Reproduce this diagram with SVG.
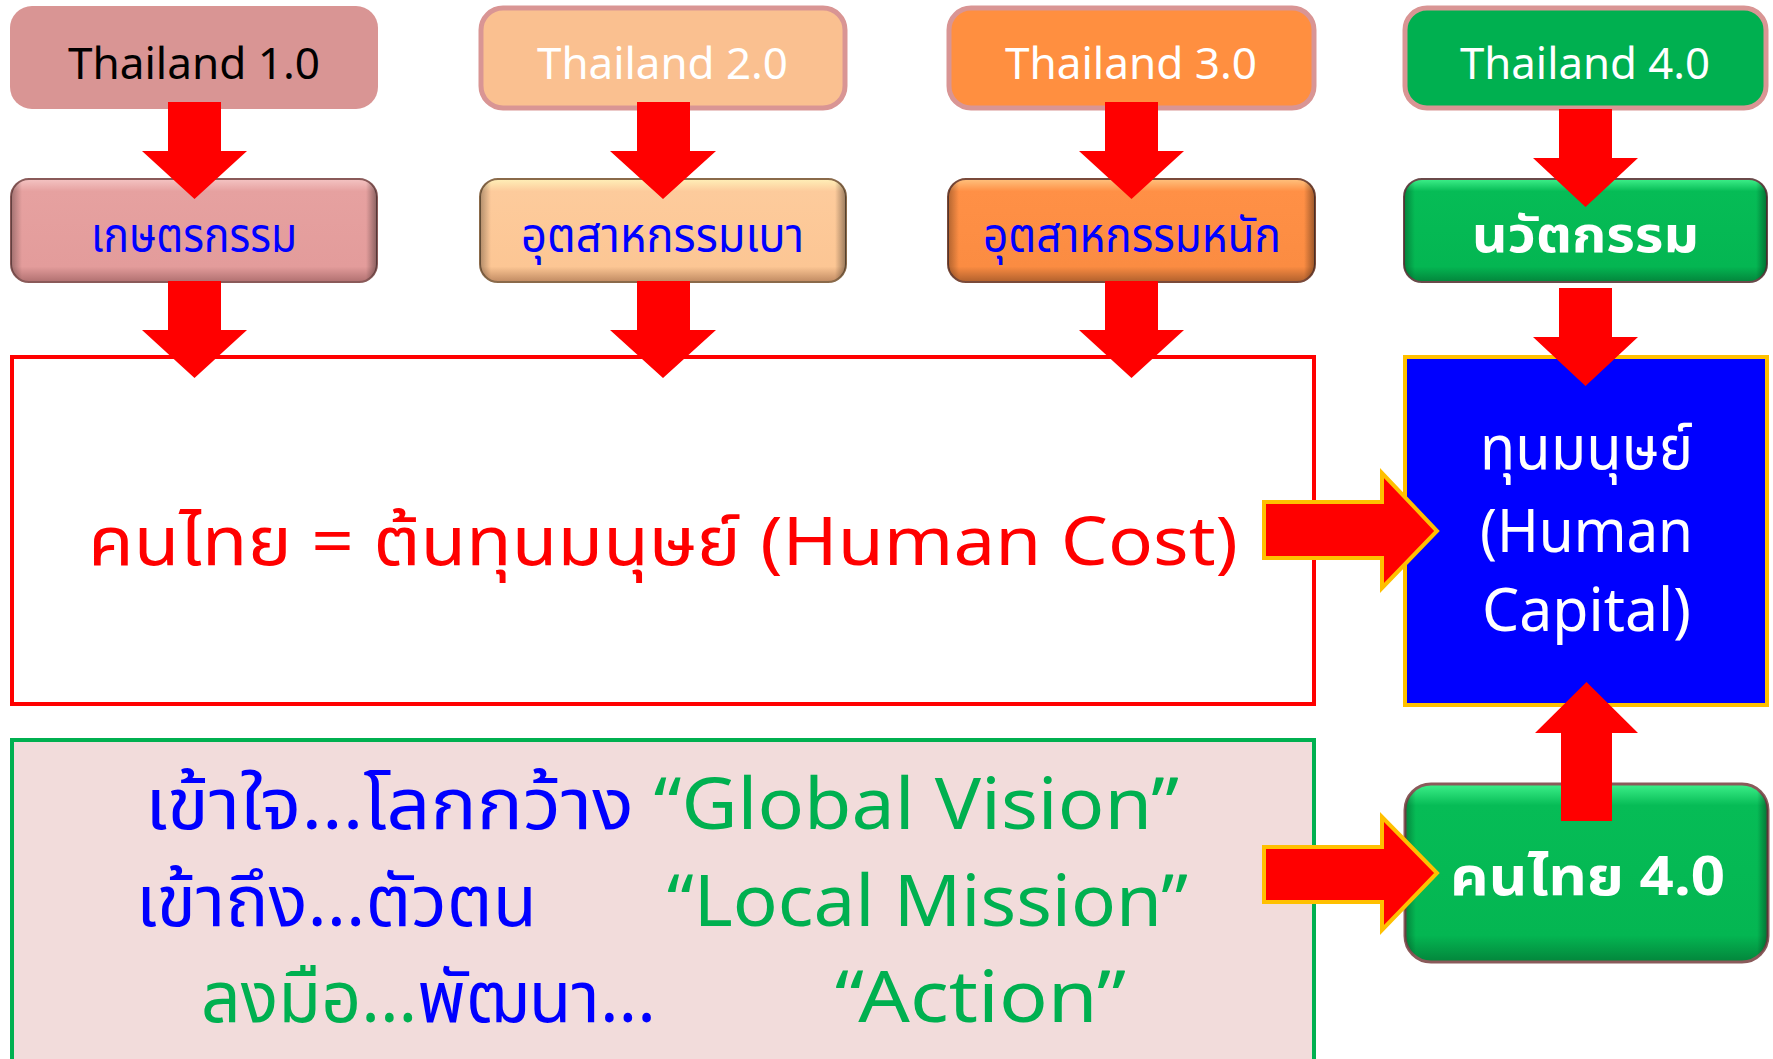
<svg xmlns="http://www.w3.org/2000/svg" width="1773" height="1059" viewBox="0 0 1773 1059">
<defs>
<style>
.t{font-family:"Noto Sans","Noto Sans Thai","DejaVu Sans",sans-serif;}
.top{font-size:44px;text-anchor:start;}
.sec{font-size:48px;fill:#0000ff;}
.arr{fill:#ff0000;}
.rarr{fill:#ff0000;stroke:#ffc000;stroke-width:4;stroke-linejoin:miter;}
.bl{fill:#0000ff;}
.gr{fill:#00b050;}
.edge{fill:url(#side);}
</style>
<linearGradient id="g1" x1="0" y1="0" x2="0" y2="1">
<stop offset="0" stop-color="#f4c4c3"/><stop offset="0.12" stop-color="#e6a1a0"/><stop offset="0.85" stop-color="#e39c9b"/><stop offset="1" stop-color="#b07070"/></linearGradient>
<linearGradient id="g2" x1="0" y1="0" x2="0" y2="1">
<stop offset="0" stop-color="#fff0b8"/><stop offset="0.12" stop-color="#fdcb9c"/><stop offset="0.85" stop-color="#fcc694"/><stop offset="1" stop-color="#c08a62"/></linearGradient>
<linearGradient id="g3" x1="0" y1="0" x2="0" y2="1">
<stop offset="0" stop-color="#ffc27e"/><stop offset="0.12" stop-color="#ff9046"/><stop offset="0.85" stop-color="#fb8c42"/><stop offset="1" stop-color="#b0602d"/></linearGradient>
<linearGradient id="g4" x1="0" y1="0" x2="0" y2="1">
<stop offset="0" stop-color="#3ef08a"/><stop offset="0.12" stop-color="#06bc56"/><stop offset="0.85" stop-color="#04b652"/><stop offset="1" stop-color="#03853b"/></linearGradient>
<linearGradient id="side" x1="0" y1="0" x2="1" y2="0">
<stop offset="0" stop-color="#000" stop-opacity="0.3"/><stop offset="0.03" stop-color="#000" stop-opacity="0"/><stop offset="0.97" stop-color="#000" stop-opacity="0"/><stop offset="1" stop-color="#000" stop-opacity="0.4"/></linearGradient>
</defs>

<g id="thailand1"><rect x="10" y="6" width="368" height="103" rx="22" fill="#d99594"/>
<text class="t top" x="68" y="79" textLength="252" lengthAdjust="spacingAndGlyphs" fill="#000">Thailand 1.0</text></g>
<g id="thailand2"><rect x="481" y="8" width="364" height="100" rx="22" fill="#fac090" stroke="#d99594" stroke-width="5"/>
<text class="t top" x="537" y="79" textLength="251" lengthAdjust="spacingAndGlyphs" fill="#fff">Thailand 2.0</text></g>
<g id="thailand3"><rect x="949" y="8" width="365" height="100" rx="22" fill="#ff8f40" stroke="#d99594" stroke-width="5"/>
<text class="t top" x="1005" y="79" textLength="252" lengthAdjust="spacingAndGlyphs" fill="#fff">Thailand 3.0</text></g>
<g id="thailand4"><rect x="1405" y="8" width="361" height="100" rx="22" fill="#00b050" stroke="#d99594" stroke-width="5"/>
<text class="t top" x="1460" y="79" textLength="250" lengthAdjust="spacingAndGlyphs" fill="#fff">Thailand 4.0</text></g>

<g id="agri"><rect x="11" y="179" width="366" height="103" rx="18" fill="url(#g1)" stroke="#8a5a59" stroke-width="2"/>
<rect class="edge" x="11" y="179" width="366" height="103" rx="18"/>
<text class="t sec" x="91" y="252" textLength="206" lengthAdjust="spacingAndGlyphs">เกษตรกรรม</text></g>
<g id="light"><rect x="480" y="179" width="366" height="103" rx="18" fill="url(#g2)" stroke="#8a6a4a" stroke-width="2"/>
<rect class="edge" x="480" y="179" width="366" height="103" rx="18"/>
<text class="t sec" x="521" y="252" textLength="283" lengthAdjust="spacingAndGlyphs">อุตสาหกรรมเบา</text></g>
<g id="heavy"><rect x="948" y="179" width="367" height="103" rx="18" fill="url(#g3)" stroke="#7a4a3a" stroke-width="2"/>
<rect class="edge" x="948" y="179" width="367" height="103" rx="18"/>
<text class="t sec" x="983" y="252" textLength="298" lengthAdjust="spacingAndGlyphs">อุตสาหกรรมหนัก</text></g>
<g id="innov"><rect x="1404" y="179" width="363" height="103" rx="18" fill="url(#g4)" stroke="#6a4a4a" stroke-width="2"/>
<rect class="edge" x="1404" y="179" width="363" height="103" rx="18"/>
<text class="t" x="1472" y="252" font-size="50" font-weight="bold" fill="#fff" textLength="227" lengthAdjust="spacingAndGlyphs">นวัตกรรม</text></g>

<g id="humancost"><rect x="12" y="357" width="1302" height="347" fill="#fff" stroke="#ff0000" stroke-width="4"/>
<text class="t" x="88" y="565" font-size="67" fill="#ff0000" textLength="1150" lengthAdjust="spacingAndGlyphs">คนไทย = ต้นทุนมนุษย์ (Human Cost)</text></g>

<g id="humancapital"><rect x="1405" y="357" width="362" height="348" fill="#0000ff" stroke="#ffc000" stroke-width="4"/>
<text class="t" font-size="61" fill="#fff">
<tspan x="1480" y="469" textLength="213" lengthAdjust="spacingAndGlyphs">ทุนมนุษย์</tspan>
<tspan x="1480" y="552" textLength="213" lengthAdjust="spacingAndGlyphs">(Human</tspan>
<tspan x="1482" y="631" textLength="209" lengthAdjust="spacingAndGlyphs">Capital)</tspan></text></g>

<g id="vision"><rect x="12" y="740" width="1302" height="340" fill="#f2dcdb" stroke="#00b050" stroke-width="4"/>
<text class="t" font-size="72" x="145" y="829" textLength="1034" lengthAdjust="spacingAndGlyphs"><tspan class="bl">เข้าใจ...โลกกว้าง </tspan><tspan class="gr">“Global Vision”</tspan></text>
<text class="t bl" font-size="72" x="136" y="926" textLength="401" lengthAdjust="spacingAndGlyphs">เข้าถึง...ตัวตน</text>
<text class="t gr" font-size="72" x="667" y="926" textLength="521" lengthAdjust="spacingAndGlyphs">“Local Mission”</text>
<text class="t" font-size="72" x="201" y="1022" textLength="455" lengthAdjust="spacingAndGlyphs"><tspan class="gr">ลงมือ...</tspan><tspan class="bl">พัฒนา...</tspan></text>
<text class="t gr" font-size="72" x="835" y="1022" textLength="291" lengthAdjust="spacingAndGlyphs">“Action”</text></g>

<g id="thai40"><rect x="1405" y="784" width="363" height="178" rx="26" fill="url(#g4)" stroke="#8a5a5a" stroke-width="3"/>
<rect class="edge" x="1405" y="784" width="363" height="178" rx="26"/>
<text class="t" x="1450" y="895" font-size="54" font-weight="bold" fill="#fff" textLength="275" lengthAdjust="spacingAndGlyphs">คนไทย 4.0</text></g>

<g id="connectors">
<polygon class="arr" points="168,102 221,102 221,151 247,151 194.5,199 142,151 168,151"/>
<polygon class="arr" points="168,281 221,281 221,330 247,330 194.5,378 142,330 168,330"/>
<polygon class="arr" points="637,102 690,102 690,151 716,151 663,199 610,151 637,151"/>
<polygon class="arr" points="637,281 690,281 690,330 716,330 663,378 610,330 637,330"/>
<polygon class="arr" points="1105,102 1158,102 1158,151 1184,151 1131.5,199 1079,151 1105,151"/>
<polygon class="arr" points="1105,281 1158,281 1158,330 1184,330 1131.5,378 1079,330 1105,330"/>
<polygon class="arr" points="1559,109 1612,109 1612,158 1638,158 1585.5,207 1533,158 1559,158"/>
<polygon class="arr" points="1559,288 1612,288 1612,337 1638,337 1585.5,386 1533,337 1559,337"/>
<polygon class="arr" points="1561,821 1612,821 1612,733 1638,733 1586.5,682 1535,733 1561,733"/>
<polygon class="rarr" points="1264,502 1382,502 1382,473 1437,531 1382,588 1382,558 1264,558"/>
<polygon class="rarr" points="1264,847 1382,847 1382,817 1437,873 1382,930 1382,902 1264,902"/>
</g>
</svg>
